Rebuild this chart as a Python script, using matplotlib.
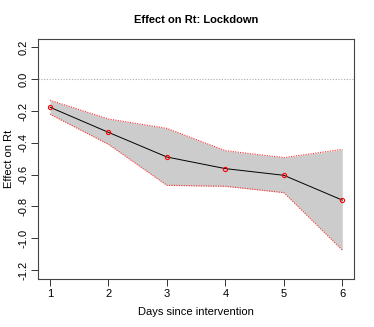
import matplotlib
matplotlib.use('Agg')
import matplotlib.pyplot as plt

# data
days  = [1, 2, 3, 4, 5, 6]
effect = [-0.176, -0.334, -0.489, -0.562, -0.604, -0.760]
upper  = [-0.132, -0.250, -0.309, -0.449, -0.493, -0.441]
lower  = [-0.220, -0.409, -0.667, -0.673, -0.713, -1.074]
yticks = [0.2, 0.0, -0.2, -0.4, -0.6, -0.8, -1.0, -1.2]

plt.rcParams['font.family'] = ['Liberation Sans', 'DejaVu Sans']

fig = plt.figure(figsize=(3.74, 3.27), dpi=100)
ax = fig.add_axes([0.1024, 0.1468, 0.8441, 0.7354])

ax.fill_between(days, lower, upper, color='#cccccc', linewidth=0)
ax.plot(days, upper, color='#ff3030', linestyle=(0, (1, 1.2)), linewidth=0.8)
ax.plot(days, lower, color='#ff3030', linestyle=(0, (1, 1.2)), linewidth=0.8)
ax.axhline(0, color='#aaaaaa', linestyle=(0, (1, 1.5)), linewidth=0.8)
ax.plot(days, effect, color='black', linewidth=0.7)
ax.plot(days, effect, linestyle='none', marker='o', markersize=3,
        markerfacecolor='none', markeredgecolor='red', markeredgewidth=0.8)

ax.set_xlim(0.8, 6.2)
ax.set_ylim(-1.256, 0.256)
ax.set_xticks(days)
ax.set_yticks(yticks)
ax.set_yticklabels(['%.1f' % v if v != 0 else '0.0' for v in yticks],
                   rotation=90, va='center')
ax.tick_params(direction='out', length=5, width=0.7, labelsize=8,
               colors='#333333', labelcolor='black')
ax.tick_params(axis='x', pad=2)
ax.tick_params(axis='y', pad=2)
for sp in ax.spines.values():
    sp.set_linewidth(0.8)
    sp.set_color('#444444')

ax.set_xlabel('Days since intervention', fontsize=8, labelpad=6)
ax.set_ylabel('Effect on Rt', fontsize=8, labelpad=3)
ax.set_title('Effect on Rt: Lockdown', fontsize=8, fontweight='bold', pad=11)

plt.savefig('out.png', dpi=100)
plt.close()
